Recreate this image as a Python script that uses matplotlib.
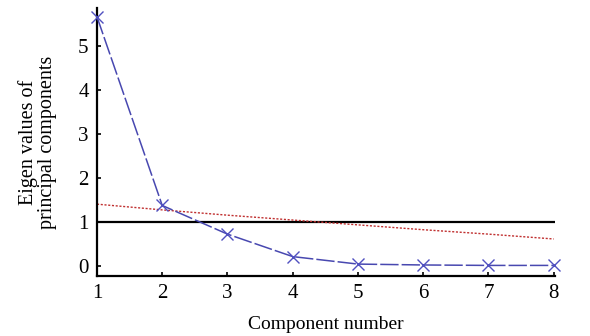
import matplotlib
matplotlib.use("Agg")
import matplotlib.pyplot as plt

components = [1, 2, 3, 4, 5, 6, 7, 8]
eigenvalues = [5.65, 1.37, 0.72, 0.21, 0.04, 0.02, 0.01, 0.01]
parallel = [1.40, 1.27, 1.15, 1.04, 0.93, 0.82, 0.72, 0.61]
threshold = 1.0
yticks = [0, 1, 2, 3, 4, 5]

plt.rcParams['font.family'] = ['Liberation Serif', 'DejaVu Serif']

fig = plt.figure(figsize=(5.9, 3.36), dpi=100)
ax = fig.add_axes([0.1644, 0.1786, 0.7763, 0.7974])

ax.axhline(threshold, color='black', lw=1.6, zorder=1)
ax.plot(components, parallel, color='#c03030', lw=1.0, ls=(0, (1.5, 1.2)), zorder=2)
ax.plot(components, eigenvalues, color='#4848b0', lw=1.1, ls=(0, (12, 2)),
        marker='x', ms=8, mew=1.0, mec='#5050c0', zorder=3, clip_on=False)

ax.set_xlim(1, 8.02)
ax.set_ylim(-0.23, 5.85)
ax.set_xticks(components)
ax.set_yticks(yticks)
ax.spines['top'].set_visible(False)
ax.spines['right'].set_visible(False)
ax.spines['left'].set_linewidth(1.6)
ax.spines['bottom'].set_linewidth(1.6)
ax.tick_params(direction='in', length=3, width=1.2, labelsize=15, pad=6)

ax.set_xlabel('Component number', fontsize=14, labelpad=9)
ax.set_ylabel('Eigen values of\nprincipal components', fontsize=14.5, labelpad=15, linespacing=1.0)

fig.savefig('out.png', dpi=100, facecolor='white')
